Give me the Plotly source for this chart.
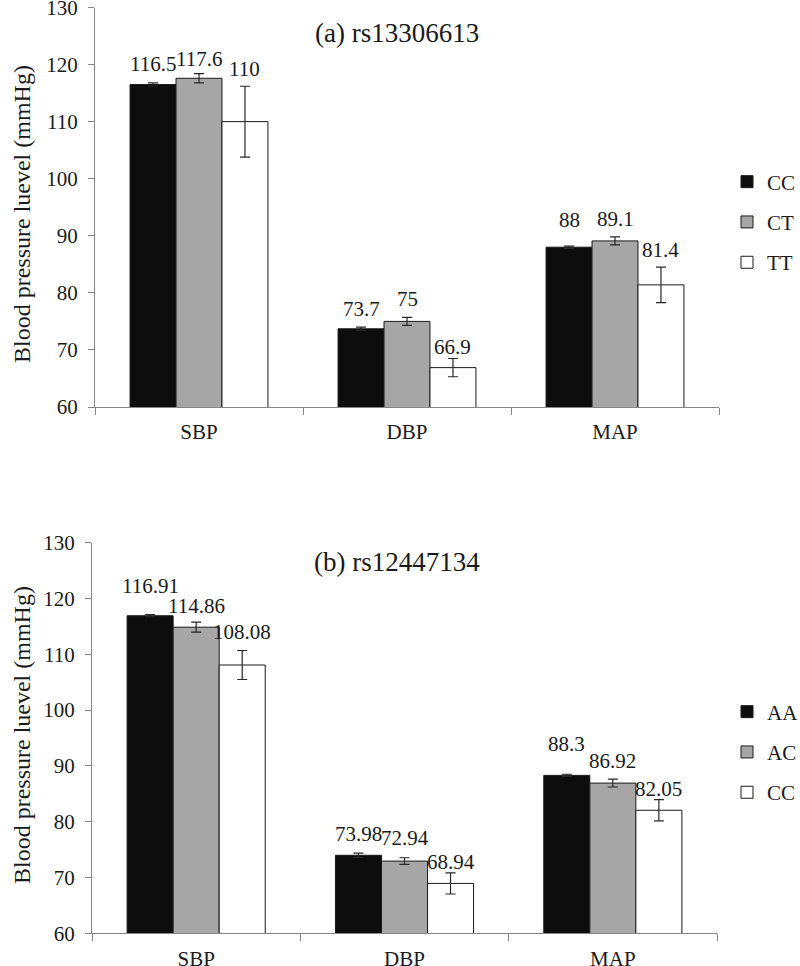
import plotly.graph_objects as go

categories = ["SBP", "DBP", "MAP"]

# (a) rs13306613
genotypes_a = ["CC", "CT", "TT"]
cc_a = [116.5, 73.7, 88.0]
ct_a = [117.6, 75.0, 89.1]
tt_a = [110.0, 66.9, 81.4]
cc_a_err = [0.3, 0.3, 0.2]
ct_a_err = [0.8, 0.7, 0.7]
tt_a_err = [6.2, 1.6, 3.1]

# (b) rs12447134
genotypes_b = ["AA", "AC", "CC"]
aa_b = [116.91, 73.98, 88.3]
ac_b = [114.86, 72.94, 86.92]
cc_b = [108.08, 68.94, 82.05]
aa_b_err = [0.2, 0.4, 0.2]
ac_b_err = [0.9, 0.6, 0.7]
cc_b_err = [2.6, 1.9, 1.9]

y_ticks = [60, 70, 80, 90, 100, 110, 120, 130]

# extra vertical nudges (px) of the value labels, per series and category
label_nudge_a = [[1, 1, 9], [-3, 1, 0], [0, -6, 0]]
label_nudge_b = [[11, 2, 13], [-1, 2, 1], [1, -7, -7]]

FONT = "Liberation Serif"
TXT = "#1a1a1a"
AXC = "#868686"
W, H = 800, 966
BARGAP = 0.337
LABEL_GAP = 3.5
colors = ["#0d0d0d", "#a6a6a6", "#ffffff"]

panels = [
    dict(title="(a) rs13306613", names=genotypes_a, values=[cc_a, ct_a, tt_a],
         errs=[cc_a_err, ct_a_err, tt_a_err], nudges=label_nudge_a,
         xa="x", ya="y", leg="legend",
         xdom=[95 / W, 719 / W], ydom=[1 - 407 / H, 1 - 7.5 / H],
         title_y=1 - 33.5 / H, ytitle_y=1 - 214 / H, leg_y=1 - 222 / H),
    dict(title="(b) rs12447134", names=genotypes_b, values=[aa_b, ac_b, cc_b],
         errs=[aa_b_err, ac_b_err, cc_b_err], nudges=label_nudge_b,
         xa="x2", ya="y2", leg="legend2",
         xdom=[92 / W, 717 / W], ydom=[1 - 933.3 / H, 1 - 542.7 / H],
         title_y=1 - 562 / H, ytitle_y=1 - 735 / H, leg_y=1 - 752 / H),
]

fig = go.Figure()
annotations = []
layout = {}

for k, p in enumerate(panels):
    plot_w = (p["xdom"][1] - p["xdom"][0]) * W
    cat_w = plot_w / len(categories)
    bar_w = cat_w * (1 - BARGAP) / len(p["names"])
    for i, (name, vals, errs) in enumerate(zip(p["names"], p["values"], p["errs"])):
        fig.add_trace(go.Bar(
            x=categories, y=vals, name=name,
            marker=dict(color=colors[i], line=dict(color="#1a1a1a", width=1)),
            error_y=dict(type="data", array=errs, visible=True, color="#262626",
                         thickness=1.2, width=5),
            xaxis=p["xa"], yaxis=p["ya"], legend=p["leg"],
            legendgroup=p["leg"] + name,
        ))
        for j, cat in enumerate(categories):
            annotations.append(dict(
                x=cat, y=vals[j] + errs[j], xref=p["xa"], yref=p["ya"],
                text=f"{vals[j]:g}", showarrow=False, yanchor="bottom",
                xshift=(i - (len(p["names"]) - 1) / 2) * bar_w,
                yshift=LABEL_GAP + p["nudges"][i][j],
                font=dict(family=FONT, size=21, color=TXT),
            ))
    annotations.append(dict(
        x=397 / W, y=p["title_y"], xref="paper", yref="paper", text=p["title"],
        showarrow=False, xanchor="center", yanchor="middle",
        font=dict(family=FONT, size=27, color=TXT)))
    annotations.append(dict(
        x=22 / W, y=p["ytitle_y"], xref="paper", yref="paper",
        text="Blood pressure luevel (mmHg)", textangle=-90,
        showarrow=False, xanchor="center", yanchor="middle",
        font=dict(family=FONT, size=24, color=TXT)))

    suffix = "" if k == 0 else str(k + 1)
    layout["xaxis" + suffix] = dict(
        domain=p["xdom"], anchor="y" + suffix, type="category",
        showline=True, linecolor=AXC, linewidth=1,
        ticks="outside", tickson="boundaries", ticklen=7, tickcolor=AXC,
        tickfont=dict(family=FONT, size=21, color=TXT),
        showgrid=False, zeroline=False, ticklabelstandoff=6,
        ticklabeloverflow="allow")
    layout["yaxis" + suffix] = dict(
        domain=p["ydom"], anchor="x" + suffix, range=[60, 130],
        tickvals=y_ticks, showline=True, linecolor=AXC, linewidth=1,
        ticks="outside", ticklen=6, tickcolor=AXC,
        tickfont=dict(family=FONT, size=21, color=TXT),
        showgrid=False, zeroline=False, ticklabelstandoff=6,
        ticklabeloverflow="allow")
    layout[p["leg"]] = dict(
        x=727 / W, xanchor="left", y=p["leg_y"], yanchor="middle",
        font=dict(family=FONT, size=21, color=TXT),
        tracegroupgap=10, traceorder="grouped", bgcolor="rgba(0,0,0,0)")

fig.update_layout(
    width=W, height=H,
    margin=dict(l=0, r=0, t=0, b=0, autoexpand=False),
    paper_bgcolor="white", plot_bgcolor="white",
    barmode="group", bargap=BARGAP, bargroupgap=0,
    annotations=annotations,
    **layout,
)

fig.write_html("out.html", config={"displayModeBar": False},
               post_script="document.body.style.margin='0';")
